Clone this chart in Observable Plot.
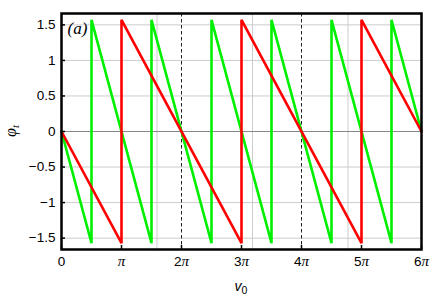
<!DOCTYPE html>
<html><head><meta charset="utf-8">
<script src="https://cdn.jsdelivr.net/npm/d3@7"></script>
<script src="https://cdn.jsdelivr.net/npm/@observablehq/plot@0.6"></script>
<style>body{margin:0;background:#fff}</style>
</head><body><div id="chart"></div>
<script>
// x positions are in multiples of π
const redX = [0, 1, 1, 3, 3, 5, 5, 6];
const redY = [0, -1.5708, 1.5708, -1.5708, 1.5708, -1.5708, 1.5708, 0];
const greenX = [0, 0.5, 0.5, 1.5, 1.5, 2.5, 2.5, 3.5, 3.5, 4.5, 4.5, 5.5, 5.5, 6];
const greenY = [0, -1.5708, 1.5708, -1.5708, 1.5708, -1.5708, 1.5708, -1.5708, 1.5708, -1.5708, 1.5708, -1.5708, 1.5708, 0];
const xTickMultiples = [0, 1, 2, 3, 4, 5, 6];
const xTickLabels = ["0", "π", "2π", "3π", "4π", "5π", "6π"];
const yTicks = [-1.5, -1, -0.5, 0, 0.5, 1, 1.5];
const yTickLabels = ["−1.5", "−1", "−0.5", "0", "0.5", "1", "1.5"];
const xGrid = [5, 10, 15];
const dashedMultiples = [2, 4];

const PI = Math.PI;
const red = redX.map((x, i) => ({x: x * PI, y: redY[i]}));
const green = greenX.map((x, i) => ({x: x * PI, y: greenY[i]}));
const xTicks = xTickMultiples.map(m => m * PI);
const dashed = dashedMultiples.map(m => m * PI);

const mL = 61, mR = 15, mT = 13, mB = 51, W = 436, H = 300;
const innerW = W - mL - mR, innerH = H - mT - mB;

const plot = Plot.plot({
  width: W, height: H,
  marginLeft: mL, marginRight: mR, marginTop: mT, marginBottom: mB,
  style: {fontFamily: "'Liberation Sans', Arial, sans-serif", fontSize: "13px", background: "#fff"},
  x: {domain: [0, 6 * PI], axis: null},
  y: {domain: [-1.66, 1.66], axis: null},
  marks: [
    Plot.ruleY(yTicks.filter(d => d !== 0), {stroke: "#cccccc", strokeWidth: 1}),
    Plot.ruleX(xGrid, {stroke: "#cccccc", strokeWidth: 1}),
    Plot.ruleY([0], {stroke: "#888888", strokeWidth: 1}),
    Plot.ruleX(dashed, {stroke: "#222", strokeWidth: 1, strokeDasharray: "3.5,2.5"}),
    Plot.line(green, {x: "x", y: "y", stroke: "#00f000", strokeWidth: 2.6, strokeLinejoin: "miter", strokeMiterlimit: 2}),
    Plot.line(red, {x: "x", y: "y", stroke: "#ff0000", strokeWidth: 2.6, strokeLinejoin: "miter", strokeMiterlimit: 2}),
    Plot.tickX(xTicks, {x: d => d, insetTop: innerH - 4, stroke: "black", strokeWidth: 1.5}),
    Plot.tickY(yTicks, {y: d => d, insetRight: innerW - 4, stroke: "black", strokeWidth: 1.5}),
    Plot.frame({stroke: "black", strokeWidth: 2.5}),
    Plot.axisX(xTicks, {tickSize: 0, tickPadding: 7, tickFormat: d => xTickLabels[xTicks.indexOf(d)], label: null, fill: "black", fontSize: 13.5}),
    Plot.axisY(yTicks, {tickSize: 0, tickPadding: 6, tickFormat: d => yTickLabels[yTicks.indexOf(d)], label: null, fill: "black", fontSize: 13.5}),
    Plot.text(["(a)"], {frameAnchor: "top-left", dx: 6, dy: 8, text: d => d, textAnchor: "start", lineAnchor: "top",
      fontFamily: "'Liberation Serif', 'Times New Roman', serif", fontStyle: "italic", fontSize: 17, fill: "black"})
  ]
});
document.getElementById("chart").appendChild(plot);

const svg = d3.select(plot);
// italic π in x tick labels
svg.selectAll('g[aria-label="x-axis tick label"] text').each(function() {
  const t = this.textContent;
  if (t.includes("π")) {
    const pre = t.replace("π", "");
    const el = d3.select(this);
    el.text(null);
    if (pre) el.append("tspan").text(pre);
    el.append("tspan").attr("font-family", "'Liberation Serif', serif").attr("font-style", "italic").attr("font-size", 15).text("π");
  }
});
// axis labels
const xl = svg.append("text").attr("x", mL + innerW / 2).attr("y", 291).attr("text-anchor", "middle")
  .attr("font-family", "'Liberation Sans', Arial, sans-serif").attr("font-size", 14).attr("fill", "black");
xl.append("tspan").attr("font-style", "italic").text("v");
xl.append("tspan").attr("font-size", 10.5).attr("dy", 3).text("0");
const yl = svg.append("text").attr("transform", `translate(16,${mT + innerH / 2}) rotate(-90)`).attr("text-anchor", "middle")
  .attr("font-family", "'Liberation Serif', serif").attr("font-size", 16).attr("fill", "black");
yl.append("tspan").attr("font-style", "italic").text("φ");
yl.append("tspan").attr("font-style", "italic").attr("font-size", 11).attr("dy", 3).text("t");
</script>
</body></html>
